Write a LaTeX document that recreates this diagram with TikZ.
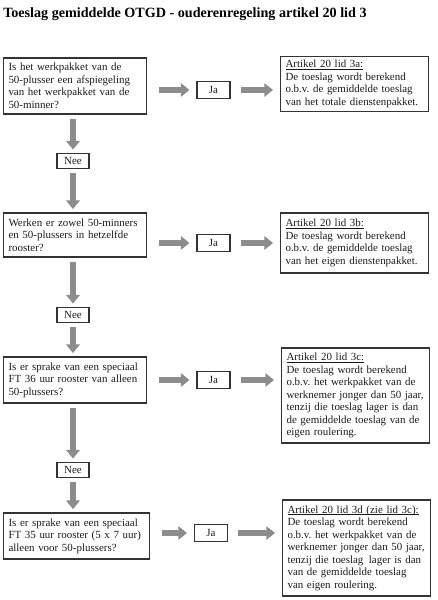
\documentclass[tikz,border=0pt]{standalone}
\usepackage{fontspec}
\setmainfont{Liberation Serif}
\usetikzlibrary{arrows.meta}
\frenchspacing
\definecolor{boxline}{HTML}{333333}
\definecolor{arrowgray}{HTML}{8C8C8C}
\newcommand{\artul}[1]{\leavevmode\setbox0=\hbox{#1}\rlap{\rule[-1.2pt]{\wd0}{0.45pt}}\box0}
\tikzset{
  base/.style={draw=boxline, line width=0.8pt, font=\fontsize{8.2}{9.4}\selectfont, text=black!90},
  qbox/.style={base, anchor=west, text width=99.75pt, inner xsep=3.75pt, inner ysep=3pt, align=left},
  abox/.style={base, anchor=west, text width=103.5pt, inner xsep=3.75pt, inner ysep=3pt, align=left},
  jabox/.style={base, minimum width=24.75pt, minimum height=12.75pt, inner sep=0pt},
  neebox/.style={base, minimum width=24pt, minimum height=11.25pt, inner sep=0pt},
  blockarrow/.style={draw=arrowgray, line width=4.5pt, -{Triangle[length=6.5pt,width=10pt]}},
  hshort1/.style={shorten <=9pt, shorten >=5.25pt},
  hshort2/.style={shorten <=7.5pt, shorten >=5.25pt},
  vshort/.style={shorten <=3pt, shorten >=2.5pt},
}
\begin{document}
\begin{tikzpicture}[x=0.75pt,y=-0.75pt]
\useasboundingbox (0,0) rectangle (437,600);

\node[anchor=west, font=\fontsize{10.6}{12}\selectfont\bfseries, inner sep=0pt] (title) at (3,14)
  {Toeslag gemiddelde OTGD - ouderenregeling artikel 20 lid 3};

% Row 1
\node[qbox, minimum height=42pt] (q1) at (3,86)
  {Is het werkpakket van de\\50-plusser een afspiegeling\\van het werkpakket van de\\50-minner?};
\node[jabox] (ja1) at (213.5,90) {Ja};
\node[abox, minimum height=40.5pt] (a1) at (280,84)
  {\artul{Artikel 20 lid 3a:}\\De toeslag wordt berekend\\o.b.v. de gemiddelde toeslag\\van het totale dienstenpakket.};
\node[neebox] (nee1) at (73,161) {Nee};

% Row 2
\node[qbox, minimum height=33pt] (q2) at (3,235)
  {Werken er zowel 50-minners\\en 50-plussers in hetzelfde\\rooster?};
\node[jabox] (ja2) at (213.5,243) {Ja};
\node[abox, minimum height=45pt] (a2) at (280,243)
  {\artul{Artikel 20 lid 3b:}\\De toeslag wordt berekend\\o.b.v. de gemiddelde toeslag\\van het eigen dienstenpakket.};
\node[neebox] (nee2) at (73,315) {Nee};

% Row 3
\node[qbox, minimum height=34.5pt] (q3) at (3,380)
  {Is er sprake van een speciaal\\FT 36 uur rooster van alleen\\50-plussers?};
\node[jabox] (ja3) at (213.5,380) {Ja};
\node[abox, minimum height=71.25pt] (a3) at (281,395.5)
  {\artul{Artikel 20 lid 3c:}\\De toeslag wordt berekend\\o.b.v. het werkpakket van de\\werknemer jonger dan 50 jaar,\\tenzij die toeslag lager is dan\\de gemiddelde toeslag van de\\eigen roulering.};
\node[neebox] (nee3) at (73,470) {Nee};

% Row 4
\node[qbox, minimum height=34.5pt, text width=102pt] (q4) at (3,536)
  {Is er sprake van een speciaal\\FT 35 uur rooster (5 x 7 uur)\\alleen voor 50-plussers?};
\node[jabox] (ja4) at (211,533) {Ja};
\node[abox, minimum height=72pt] (a4) at (282,548)
  {\artul{Artikel 20 lid 3d (zie lid 3c):}\\De toeslag wordt berekend\\o.b.v. het werkpakket van de\\werknemer jonger dan 50 jaar,\\tenzij die toeslag\, lager is dan\\van de gemiddelde toeslag\\van eigen roulering.};

% Horizontal arrows
\foreach \i in {1,2,3,4}{
  \draw[blockarrow, hshort1] (ja\i.west -| q\i.east) -- (ja\i.west);
  \draw[blockarrow, hshort2] (ja\i.east) -- (ja\i.east -| a\i.west);
}

% Vertical arrows
\draw[blockarrow, vshort] (q1.south -| nee1.north) -- (nee1.north);
\draw[blockarrow, vshort] (nee1.south) -- (nee1.south |- q2.north);
\draw[blockarrow, vshort] (q2.south -| nee2.north) -- (nee2.north);
\draw[blockarrow, vshort] (nee2.south) -- (nee2.south |- q3.north);
\draw[blockarrow, vshort] (q3.south -| nee3.north) -- (nee3.north);
\draw[blockarrow, vshort] (nee3.south) -- (nee3.south |- q4.north);
\end{tikzpicture}
\end{document}
